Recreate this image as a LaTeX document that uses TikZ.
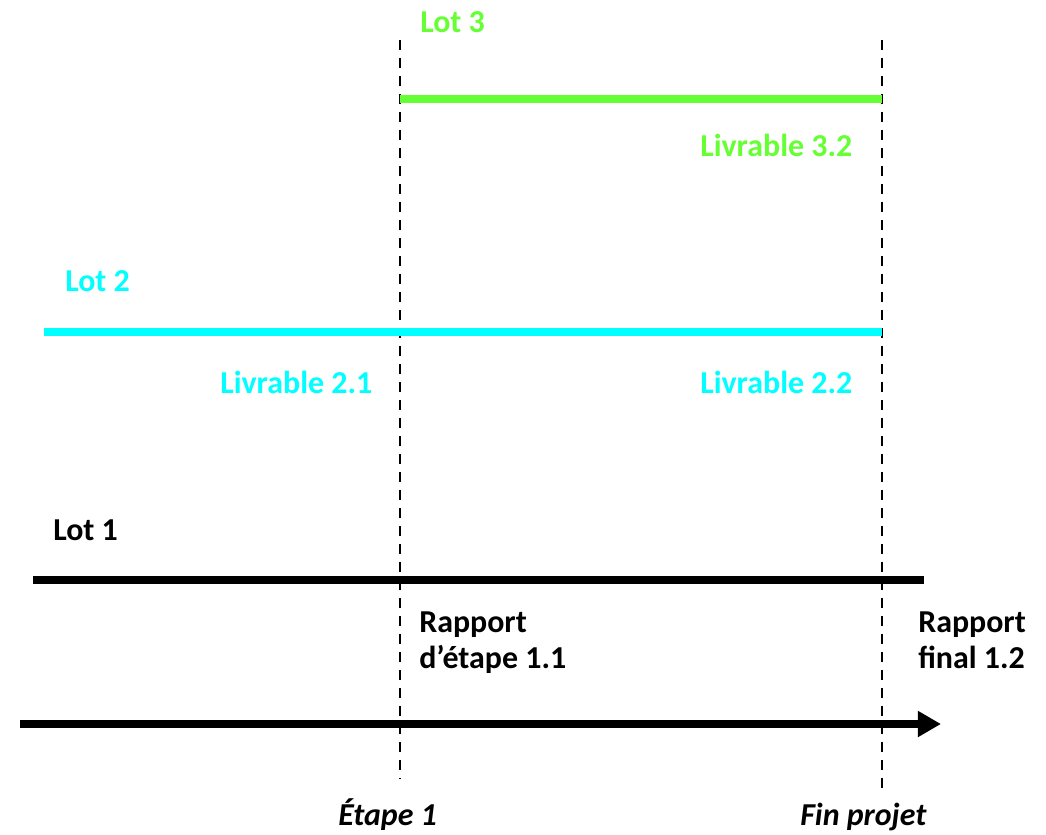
\documentclass[tikz,border=0pt]{standalone}
\usepackage{fontspec}
\setmainfont{Carlito}
\usetikzlibrary{arrows.meta}
\definecolor{lotvert}{rgb}{0.4,1.,0.2}
\definecolor{lotcyan}{rgb}{0.,1.,1.}

\begin{document}
\begin{tikzpicture}[line join=round,x=0.025cm,y=-0.025cm,
    lbl/.style={anchor=base west,inner sep=0pt,font=\fontsize{22.7}{26}\selectfont\bfseries},
    lbltwo/.style={anchor=north west,inner sep=0pt,align=left,font=\fontsize{22.7}{25.5}\selectfont\bfseries},
    jalon/.style={line width=2.1pt,dash pattern=on 0.25cm off 0.2cm},
    lotline/.style={line width=5.6pt}]
    \useasboundingbox (0,0) rectangle (1046,835);
    \coordinate (e1h) at (400,40);
    \coordinate (e1b) at (400,779);
    \coordinate (fph) at (882,40);
    \coordinate (fpb) at (882,789);
    \coordinate (l3a) at (400,99);
    \coordinate (l3b) at (882,99);
    \coordinate (l2a) at (44,332);
    \coordinate (l2b) at (882,332);
    \coordinate (l1a) at (33,580);
    \coordinate (l1b) at (924,580);
    \coordinate (ta) at (20,724);
    \coordinate (tb) at (941,724);
    \draw [jalon] (e1h)-- (e1b);
    \draw [jalon] (fph)-- (fpb);
    \draw [lotline,color=lotvert] (l3a)-- (l3b);
    \draw [lotline,color=lotcyan] (l2a)-- (l2b);
    \draw [lotline,line width=6pt] (l1a)-- (l1b);
    \draw [line width=6pt,-{Triangle[length=0.58cm,width=0.62cm]}] (ta)-- (tb);
    \node[lbl,color=lotvert] (lot3) at (420,32) {Lot 3};
    \node[lbl,color=lotvert] (liv32) at (700,156) {Livrable 3.2};
    \node[lbl,color=lotcyan] (lot2) at (65,291) {Lot 2};
    \node[lbl,color=lotcyan] (liv21) at (220,393) {Livrable 2.1};
    \node[lbl,color=lotcyan] (liv22) at (700,393) {Livrable 2.2};
    \node[lbl] (lot1) at (53,540) {Lot 1};
    \node[lbltwo] (rap11) at (419,612) {Rapport\\d’étape 1.1};
    \node[lbltwo] (rap12) at (918,612) {Rapport\\final 1.2};
    \node[lbl,font=\fontsize{22.7}{26}\selectfont\bfseries\itshape] (etape) at (338,825) {Étape 1};
    \node[lbl,font=\fontsize{22.7}{26}\selectfont\bfseries\itshape] (fin) at (800,825) {Fin projet};
\end{tikzpicture}
\end{document}
